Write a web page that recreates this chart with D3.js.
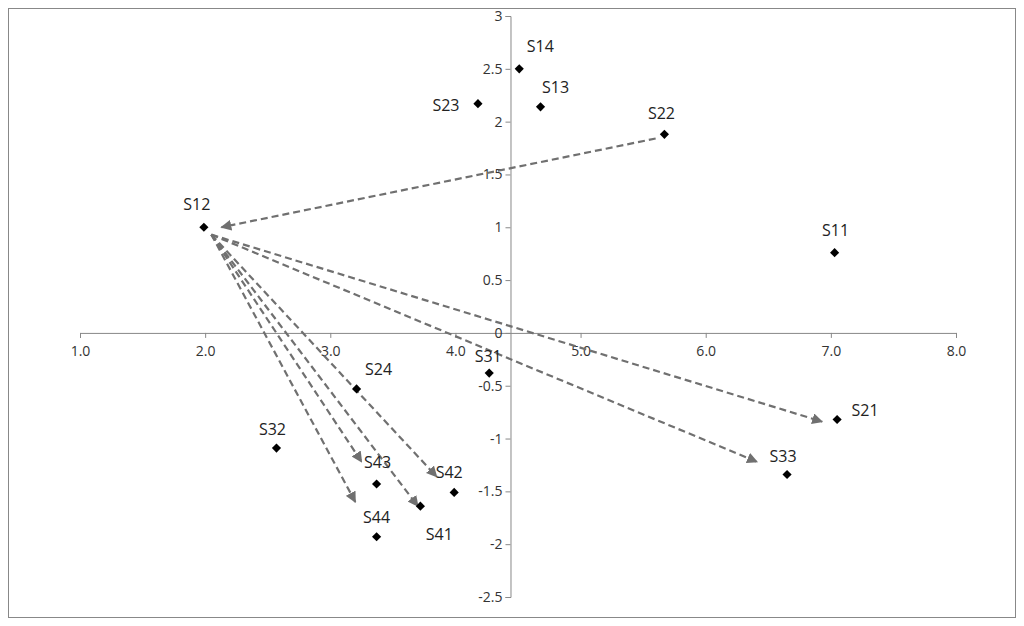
<!DOCTYPE html>
<html><head><meta charset="utf-8">
<script src="https://cdn.jsdelivr.net/npm/d3@7"></script>
<style>body{margin:0;background:#fff}</style>
</head><body>
<svg id="c" width="1024" height="626"></svg>
<script>
// point data
var names = ["S14","S13","S23","S22","S12","S11","S31","S24","S21","S32","S33","S43","S42","S41","S44"];
var xs = [4.51,4.68,4.18,5.67,1.99,7.03,4.27,3.21,7.05,2.57,6.65,3.37,3.99,3.72,3.37];
var ys = [2.50,2.14,2.17,1.88,1.00,0.76,-0.38,-0.53,-0.82,-1.09,-1.34,-1.43,-1.51,-1.64,-1.93];
// label offsets in px (dx, dy)
var labelPos = [[21,-23],[15,-20],[-32,1],[-3,-21],[-7,-23],[1,-23],[-1,-17],[22,-20],[28,-10],[-4,-19],[-4,-18],[1,-22],[-5,-20],[19,28],[0,-20]];

// arrows: [x1,y1,x2,y2]
var arrows = [
  [5.60,1.84,2.13,1.00],
  [2.05,0.93,6.93,-0.84],
  [2.05,0.93,6.41,-1.22],
  [2.05,0.93,3.85,-1.36],
  [2.05,0.93,3.70,-1.64],
  [2.05,0.93,3.25,-1.22],
  [2.05,0.93,3.20,-1.60]
];
var xTicks = [1,2,3,4,5,6,7,8];
var yTicks = [-2.5,-2,-1.5,-1,-0.5,0,0.5,1,1.5,2,2.5,3];

var svg = d3.select("#c");
svg.append("rect").attr("x",8.5).attr("y",8.5).attr("width",1007).attr("height",609)
  .attr("fill","none").attr("stroke","#888");

var x = d3.scaleLinear().domain([1,8]).range([80,956]);
var y = d3.scaleLinear().domain([-2.5,3]).range([597,16]);
var yCross = 4.44;

svg.append("defs").append("marker").attr("id","ah").attr("viewBox","0 0 10 10")
  .attr("refX",9).attr("refY",5).attr("markerWidth",5).attr("markerHeight",5)
  .attr("orient","auto").append("path").attr("d","M0,0 L10,5 L0,10 Z").attr("fill","#707070");

var gx = svg.append("g").attr("transform","translate(0,"+y(0)+")")
  .call(d3.axisBottom(x).tickValues(xTicks).tickFormat(d3.format(".1f")).tickSize(5));
var gy = svg.append("g").attr("transform","translate("+x(yCross)+",0)")
  .call(d3.axisLeft(y).tickValues(yTicks).tickFormat(function(d){return d===0?"0":String(d);}).tickSize(5));
[gx,gy].forEach(function(g){
  g.select(".domain").attr("stroke","#888");
  g.selectAll(".tick line").attr("stroke","#888");
  g.selectAll("text").attr("font-family","Open Sans, sans-serif").attr("font-size",14).attr("fill","#333");
});
gx.selectAll("text").attr("dy","1.05em");

svg.selectAll(".arr").data(arrows).enter().append("line")
  .attr("x1",function(d){return x(d[0]);}).attr("y1",function(d){return y(d[1]);})
  .attr("x2",function(d){return x(d[2]);}).attr("y2",function(d){return y(d[3]);})
  .attr("stroke","#707070").attr("stroke-width",2.2).attr("stroke-dasharray","7,4")
  .attr("marker-end","url(#ah)");

var pts = names.map(function(n,i){return {n:n,x:xs[i],y:ys[i],o:labelPos[i]};});
svg.selectAll(".pt").data(pts).enter().append("path")
  .attr("d",d3.symbol().type(d3.symbolSquare).size(42))
  .attr("transform",function(d){return "translate("+x(d.x)+","+y(d.y)+") rotate(45)";})
  .attr("fill","#000");
svg.selectAll(".lb").data(pts).enter().append("text")
  .attr("x",function(d){return x(d.x)+d.o[0];}).attr("y",function(d){return y(d.y)+d.o[1]+6;})
  .attr("text-anchor","middle").attr("font-family","Open Sans, sans-serif").attr("font-size",16)
  .attr("fill","#222").text(function(d){return d.n;});
</script>
</body></html>
